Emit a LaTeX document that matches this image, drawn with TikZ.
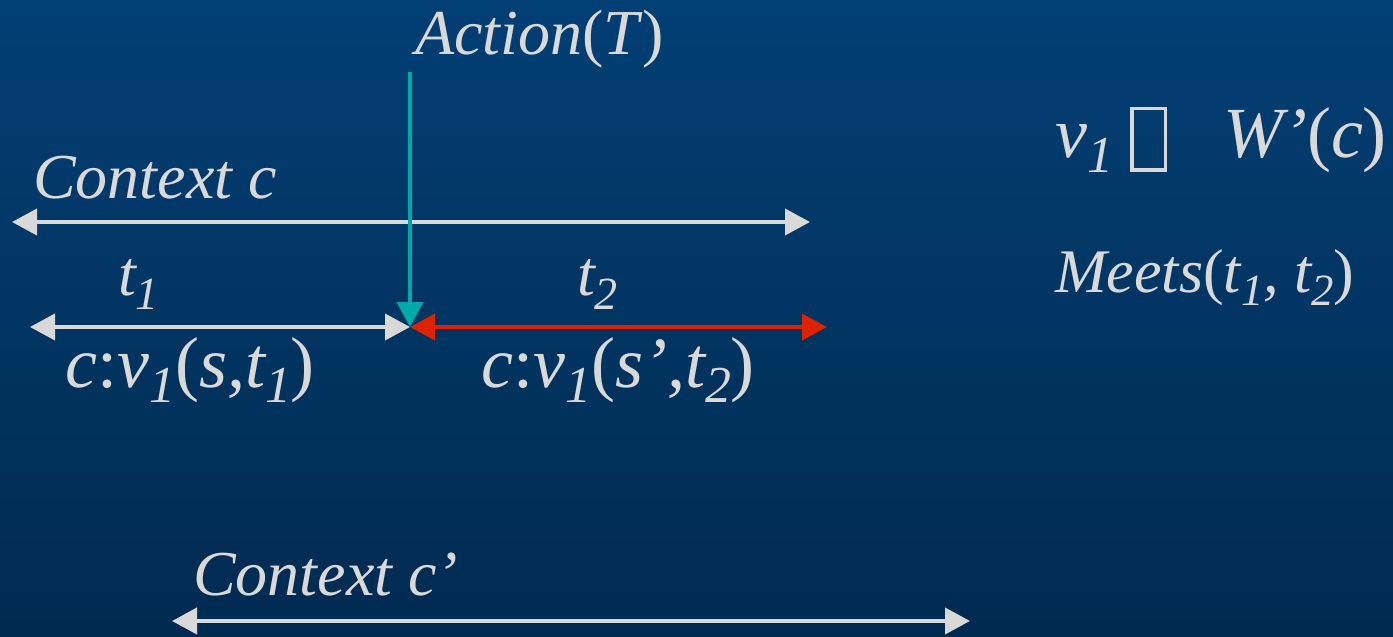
\documentclass[tikz,border=0pt]{standalone}
\usepackage{fontspec}
\setmainfont{Liberation Serif}
\usetikzlibrary{arrows.meta}
\definecolor{bgtop}{HTML}{023F74}
\definecolor{bgbot}{HTML}{012A50}
\definecolor{ink}{HTML}{D9D9D9}
\definecolor{act}{HTML}{00A9A9}
\definecolor{span}{HTML}{DD2200}
\newcommand{\low}[1]{\raisebox{-0.22em}{\scalebox{0.72}{#1}}}
\newcommand{\up}[1]{\textup{#1}}

\begin{document}
\begin{tikzpicture}[x=1pt, y=-1pt, >={Triangle[length=25pt, width=26pt]},
    lbl/.style={anchor=base west, inner sep=0pt, text=ink, font=\fontsize{64}{70}\selectfont\itshape},
    big/.style={lbl, font=\fontsize{72}{80}\selectfont\itshape},
    bar/.style={line width=4pt, draw=ink}]

  % background
  \shade[top color=bgtop, bottom color=bgbot] (0,0) rectangle (1393,637);
  \useasboundingbox (0,0) rectangle (1393,637);

  % action
  \node[lbl] (action) at (415,54) {Action\up{(}T\up{)}};
  \coordinate (acttop) at (410,72);
  \coordinate (meet) at (410,327);

  % context c
  \node[lbl] (ctxc) at (33,198) {Context c};
  \coordinate (cl) at (12,222);
  \coordinate (cr) at (810,222);

  % intervals
  \node[lbl] (tone) at (118,295) {t\low{1}};
  \node[lbl] (ttwo) at (577,295) {t\low{2}};
  \coordinate (ol) at (30,327);
  \coordinate (tr) at (827,327);
  \node[big] (vone) at (65,387) {c\up{:}v\low{1}\up{(}s,t\low{1}\up{)}};
  \node[big] (vtwo) at (481,387) {c\up{:}v\low{1}\up{(}s’,t\low{2}\up{)}};

  % relations
  \node[big] (member) at (1055,157) {v\low{1}\hspace{17pt}\raisebox{-11pt}{\setlength{\fboxrule}{3.5pt}\setlength{\fboxsep}{0pt}\fbox{\rule{0pt}{58pt}\hspace{30pt}}}\hspace{56pt}W’\up{(}c\up{)}};
  \node[lbl, font=\fontsize{62}{68}\selectfont\itshape] (meets) at (1055,292) {Meets\up{(}t\low{1}, t\low{2}\up{)}};

  % context c'
  \node[lbl] (ctxcp) at (193,595) {Context c’};
  \coordinate (dl) at (172,621);
  \coordinate (dr) at (970,621);

  \draw[bar, <->] (cl) -- (cr);
  \draw[bar, <->, ink] (ol) -- (meet);
  \draw[bar, <->, draw=span] (meet) -- (tr);
  \draw[bar, ->, draw=act] (acttop) -- (meet);
  \draw[bar, <->] (dl) -- (dr);
\end{tikzpicture}
\end{document}
